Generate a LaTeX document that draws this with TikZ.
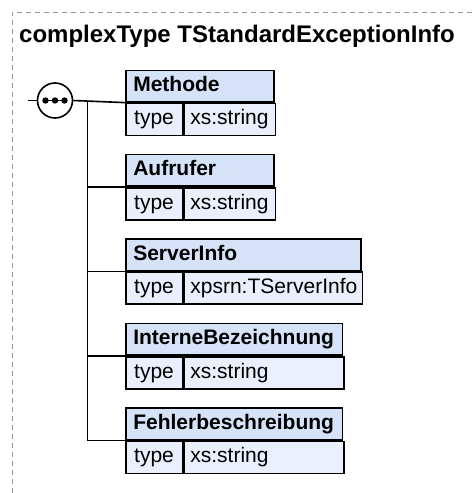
\documentclass[tikz,border=0pt]{standalone}
\usepackage{fontspec}
\setmainfont{Liberation Sans}
\usepackage{tikz}
\usetikzlibrary{positioning, calc}

\definecolor{headblue}{RGB}{213,226,247}
\definecolor{rowblue}{RGB}{233,240,251}
\definecolor{framegray}{RGB}{150,150,150}

\begin{document}
\begin{tikzpicture}[x=1pt, y=-1pt,
    frame/.style={draw=framegray, line width=0.9pt, dash pattern=on 5pt off 4pt},
    wire/.style={line width=1.6pt, black},
    elemhead/.style={draw, line width=1.6pt, fill=headblue, anchor=north west,
        minimum height=31.5pt, inner xsep=7.5pt, inner ysep=0pt, align=left,
        text height=15pt, text depth=4pt, font=\fontsize{21}{24}\selectfont\bfseries},
    typecell/.style={draw, line width=1.6pt, fill=rowblue, anchor=north west,
        minimum height=32pt, minimum width=56.5pt, inner xsep=7.5pt, inner ysep=0pt,
        text height=15pt, text depth=4pt, font=\fontsize{21}{24}\selectfont},
    valcell/.style={draw, line width=1.6pt, fill=rowblue, anchor=north west,
        minimum height=32pt, inner xsep=6.5pt, inner ysep=0pt, align=left,
        text height=15pt, text depth=4pt, font=\fontsize{21}{24}\selectfont},
    seqcircle/.style={circle, draw, line width=1.6pt, fill=white, minimum size=35pt, inner sep=0pt}]
\useasboundingbox (0,0) rectangle (472,493);

\draw[frame] (472,12) -- (12,12) -- (12,493);
\node[anchor=base west, inner sep=0pt, font=\fontsize{24}{28}\selectfont\bfseries] (title) at (19,42.5) {complexType TStandardExceptionInfo};

% sequence compositor
\node[seqcircle] (seq) at (55,100.5) {};
\draw[line width=1.6pt] ($(seq.center)+(-9.5,0)$) -- ($(seq.center)+(9.5,0)$);
\fill ($(seq.center)+(-9.5,0)$) circle (3.2pt) (seq.center) circle (3.2pt) ($(seq.center)+(9.5,0)$) circle (3.2pt);
\coordinate (stub) at (28,100.5);
\coordinate (fork) at (87.5,100.5);

% elements
\node[elemhead, text width=148pt-15pt] (methode) at (125,69.5) {Methode};
\node[typecell] (methodeT) at (methode.south west) {type};
\node[valcell, minimum width=148pt-56.5pt, text width=148pt-56.5pt-13pt] (methodeV) at (methodeT.north east) {xs:string};

\node[elemhead, text width=148pt-15pt] (aufrufer) at (125,153.8) {Aufrufer};
\node[typecell] (aufruferT) at (aufrufer.south west) {type};
\node[valcell, minimum width=148pt-56.5pt, text width=148pt-56.5pt-13pt] (aufruferV) at (aufruferT.north east) {xs:string};

\node[elemhead, text width=235pt-15pt] (server) at (125,238.3) {ServerInfo};
\node[typecell] (serverT) at (server.south west) {type};
\node[valcell, minimum width=235pt-56.5pt, text width=235pt-56.5pt-13pt] (serverV) at (serverT.north east) {xpsrn:TServerInfo};

\node[elemhead, text width=216.7pt-15pt] (intern) at (125,322.8) {InterneBezeichnung};
\node[typecell] (internT) at (intern.south west) {type};
\node[valcell, minimum width=216.7pt-56.5pt, text width=216.7pt-56.5pt-13pt] (internV) at (internT.north east) {xs:string};

\node[elemhead, text width=216.7pt-15pt] (fehler) at (125,407.4) {Fehlerbeschreibung};
\node[typecell] (fehlerT) at (fehler.south west) {type};
\node[valcell, minimum width=216.7pt-56.5pt, text width=216.7pt-56.5pt-13pt] (fehlerV) at (fehlerT.north east) {xs:string};

% connectors
\draw[wire] (stub) -- (seq.west);
\draw[wire] (seq.east) -- (methode.south west);
\draw[wire] (fork) |- (fehler.south west);
\draw[wire] (fork |- aufrufer.south west) -- (aufrufer.south west);
\draw[wire] (fork |- server.south west) -- (server.south west);
\draw[wire] (fork |- intern.south west) -- (intern.south west);
\end{tikzpicture}
\end{document}
